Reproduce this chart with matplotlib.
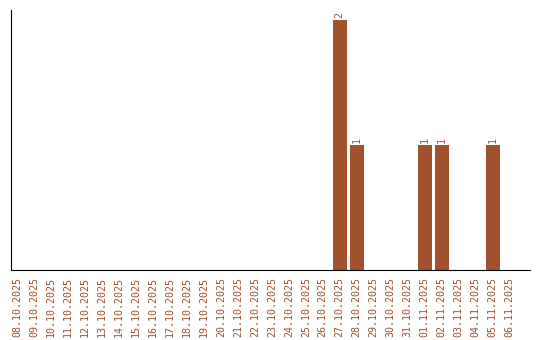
import matplotlib
matplotlib.use("Agg")
import matplotlib.pyplot as plt

dates = ["08.10.2025", "09.10.2025", "10.10.2025", "11.10.2025", "12.10.2025",
         "13.10.2025", "14.10.2025", "15.10.2025", "16.10.2025", "17.10.2025",
         "18.10.2025", "19.10.2025", "20.10.2025", "21.10.2025", "22.10.2025",
         "23.10.2025", "24.10.2025", "25.10.2025", "26.10.2025", "27.10.2025",
         "28.10.2025", "29.10.2025", "30.10.2025", "31.10.2025", "01.11.2025",
         "02.11.2025", "03.11.2025", "04.11.2025", "05.11.2025", "06.11.2025"]
counts = [0, 0, 0, 0, 0, 0, 0, 0, 0, 0, 0, 0, 0, 0, 0, 0, 0, 0, 0, 2,
          1, 0, 0, 0, 1, 1, 0, 0, 1, 0]

color = "#a0522d"
fig = plt.figure(figsize=(5.4, 3.4), dpi=100)
ax = fig.add_axes([11/540, 70/340, 519/540, 260/340])
x = list(range(len(dates)))
bars = ax.bar(x, counts, width=0.82, color=color)
for xi, c in zip(x, counts):
    if c > 0:
        ax.text(xi, c + 0.02, str(c), rotation=90, ha="center", va="bottom",
                fontsize=7.2, family="DejaVu Sans Mono", color=color)
ax.set_xlim(-0.35, 30.2)
ax.set_ylim(0, 2.08)
ax.set_xticks(x)
ax.set_xticklabels(dates, rotation=90, fontsize=7.2, family="DejaVu Sans Mono", color=color)
ax.tick_params(axis="x", length=0, pad=5)
ax.set_yticks([])
ax.spines["top"].set_visible(False)
ax.spines["right"].set_visible(False)
fig.savefig("out.png", dpi=100)
